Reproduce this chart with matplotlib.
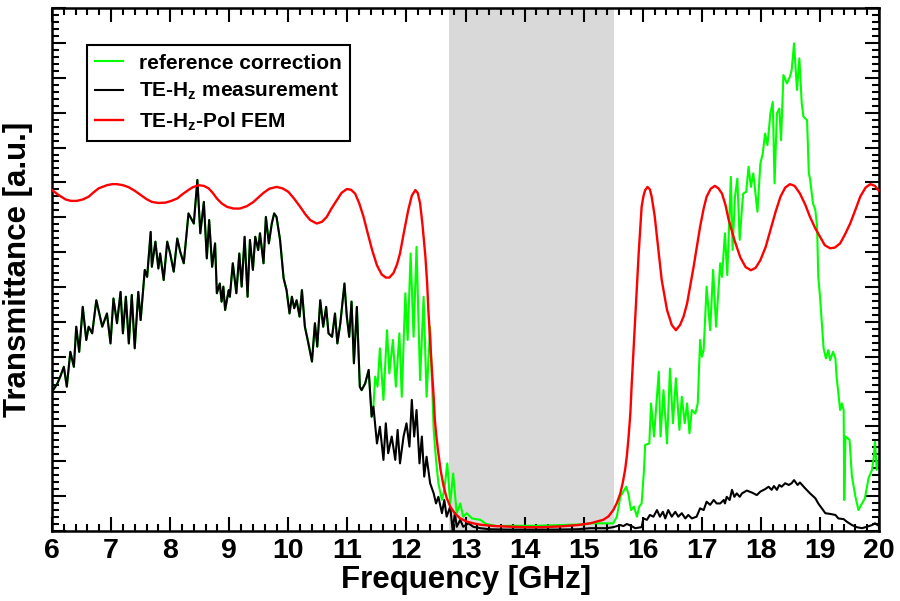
import numpy as np
import matplotlib
matplotlib.use('Agg')
import matplotlib.pyplot as plt
from matplotlib.ticker import MultipleLocator

plt.rcParams['font.family'] = ['Liberation Sans', 'DejaVu Sans']
plt.rcParams['font.weight'] = 'bold'
plt.rcParams['mathtext.fontset'] = 'custom'
plt.rcParams['mathtext.bf'] = 'Liberation Sans:bold'
plt.rcParams['mathtext.rm'] = 'Liberation Sans:bold'
plt.rcParams['mathtext.default'] = 'bf'

black_x = [6.00, 6.09, 6.14, 6.20, 6.25, 6.31, 6.37, 6.41, 6.46, 6.52, 6.58, 6.62, 6.68, 6.75, 6.85,
           6.93, 6.99, 7.04, 7.10, 7.16, 7.20, 7.25, 7.30, 7.35, 7.40, 7.46, 7.50, 7.57, 7.61, 7.67,
           7.69, 7.75, 7.80, 7.83, 7.89, 7.95, 8.00, 8.06, 8.12, 8.17, 8.23, 8.31, 8.40, 8.46, 8.51,
           8.57, 8.62, 8.66, 8.71,
           8.76, 8.79, 8.84, 8.87, 8.90, 8.93, 8.99, 9.01, 9.06, 9.12, 9.17, 9.21, 9.26, 9.31, 9.35,
           9.40, 9.44, 9.49, 9.52, 9.58, 9.62, 9.67, 9.72, 9.76, 9.80, 9.86, 9.92, 9.97, 10.02, 10.06,
           10.10, 10.14, 10.19, 10.23, 10.28, 10.34, 10.40, 10.45, 10.49, 10.54, 10.59, 10.64, 10.68,
           10.74, 10.79, 10.83, 10.88, 10.95, 10.99, 11.03, 11.07, 11.11, 11.16, 11.21,
           11.24, 11.30, 11.36, 11.41, 11.44, 11.50, 11.55, 11.61, 11.65, 11.69, 11.75, 11.81, 11.85,
           11.89, 11.95, 12.00, 12.05, 12.09, 12.13, 12.17, 12.22, 12.26, 12.30, 12.34, 12.40, 12.46,
           12.50, 12.54, 12.60, 12.64, 12.68, 12.74, 12.78, 12.82, 12.85, 12.91, 12.96, 13.05, 13.13,
           13.25, 13.40, 13.70, 14.00, 14.50, 14.90,
           15.11, 15.39, 15.50, 15.62, 15.67, 15.73, 15.81, 15.87, 15.98, 16.01, 16.07, 16.12, 16.18,
           16.24, 16.29, 16.34, 16.38, 16.43, 16.49, 16.55, 16.60, 16.66, 16.72, 16.77, 16.83, 16.91,
           16.97, 17.03, 17.08, 17.14, 17.20, 17.25,
           17.31, 17.37, 17.39, 17.42, 17.47, 17.51, 17.55, 17.59, 17.64, 17.68, 17.76, 17.85, 17.93,
           17.99, 18.07, 18.13, 18.18, 18.22, 18.27, 18.31, 18.35, 18.41, 18.47, 18.52, 18.56, 18.62,
           18.66, 18.75, 18.83, 18.92, 18.97, 19.03, 19.09, 19.17, 19.26, 19.31, 19.40, 19.45, 19.54,
           19.62, 19.71, 19.79, 19.88, 19.93, 20.00]
black_y = [3.99, 4.23, 4.43, 4.71, 4.14, 5.14, 4.71, 5.86, 5.14, 6.43, 5.48, 5.86, 5.67, 6.62, 5.86,
           6.24, 5.38, 6.67, 5.96, 6.86, 5.67, 6.72, 5.38, 6.77, 5.24, 6.86, 6.05, 7.49, 7.29, 8.58,
           7.58, 8.30, 7.53, 7.96, 7.20, 8.30, 7.96, 7.44, 8.39, 8.01, 7.68, 9.11, 8.82, 10.07, 8.54,
           9.44, 7.82, 8.92, 7.58,
           8.25, 6.82, 7.10, 6.58, 7.01, 6.34, 6.91, 6.72, 7.68, 6.82, 7.96, 7.01, 8.44, 6.72, 8.35,
           7.49, 8.44, 8.06, 8.54, 7.68, 9.01, 8.25, 8.82, 9.11, 9.01, 8.35, 7.25, 6.91, 6.24, 6.72,
           6.39, 6.62, 6.15, 6.91, 5.86, 5.38, 4.86, 5.96, 5.29, 6.62, 5.86, 6.43, 5.67,
           5.57, 6.24, 5.38, 5.96, 7.10, 6.15, 5.57, 6.58, 4.81, 6.43, 4.14,
           4.04, 4.23, 4.62, 3.28, 3.57, 2.51, 2.99, 2.04, 3.09, 2.23, 2.71, 2.04, 2.90,
           1.94, 2.71, 3.09, 2.42, 3.76, 2.71, 3.47, 1.94, 2.71, 1.56, 2.13, 1.37, 1.08,
           0.79, 0.98, 0.51, 0.89, 0.41, 0.70, 0.03, 0.51, 0.12, 0.32, 0.12, 0.22, 0.12,
           0.08, 0.05, 0.04, 0.04, 0.04, 0.05,
           0.08, 0.08, 0.11, 0.17, 0.14, 0.20, 0.14, 0.08, 0.11, 0.36, 0.32, 0.46, 0.41,
           0.60, 0.41, 0.55, 0.36, 0.60, 0.41, 0.55, 0.41, 0.51, 0.36, 0.46, 0.36, 0.41,
           0.65, 0.60, 0.84, 0.75, 0.89, 0.79,
           0.79, 0.89, 0.79, 0.98, 0.89, 1.18, 0.98, 1.08, 0.98, 1.08, 1.16, 1.10, 1.03,
           1.13, 1.20, 1.27, 1.18, 1.29, 1.18, 1.32, 1.27, 1.37, 1.32, 1.37, 1.46, 1.32,
           1.39, 1.22, 1.08, 0.94, 0.79, 0.65, 0.51, 0.49, 0.46, 0.36, 0.34, 0.27, 0.17,
           0.11, 0.08, 0.12, 0.17, 0.22, 0.14]

# reference corrected curve, identical to the measurement below 11.46 GHz
green_x = [11.47, 11.51, 11.55, 11.61, 11.67, 11.71, 11.77, 11.82, 11.88, 11.92, 11.98, 12.02, 12.07,
           12.12, 12.17, 12.23, 12.29, 12.34, 12.40, 12.46, 12.50, 12.54, 12.60, 12.64, 12.69, 12.74,
           12.79, 12.85, 12.91, 12.96, 13.02, 13.11, 13.25, 13.35, 13.53, 13.80, 14.20, 14.60, 15.00,
           15.11, 15.50, 15.56, 15.62, 15.67, 15.72, 15.76, 15.80, 15.85, 15.90, 15.94, 15.98, 16.02,
           16.04, 16.11, 16.14, 16.19, 16.27, 16.30, 16.35, 16.41, 16.46, 16.51, 16.56, 16.62, 16.66,
           16.71, 16.75, 16.79, 16.83, 16.89, 16.93, 16.97, 17.00, 17.03, 17.08, 17.14, 17.19, 17.24,
           17.31, 17.34, 17.39, 17.43, 17.49, 17.52, 17.56, 17.60, 17.64, 17.68, 17.70, 17.75, 17.79,
           17.83, 17.87, 17.90, 17.94, 17.99, 18.03, 18.07, 18.11, 18.16, 18.20, 18.23, 18.27, 18.31,
           18.34, 18.38, 18.44, 18.49, 18.52, 18.56, 18.61, 18.65, 18.69, 18.72, 18.78, 18.81, 18.83,
           18.88, 18.92, 18.95, 18.97, 19.00, 19.03, 19.06, 19.10, 19.14, 19.17, 19.22, 19.26, 19.28,
           19.34, 19.37, 19.40, 19.41, 19.43, 19.47, 19.50, 19.54, 19.60, 19.65, 19.71, 19.76, 19.82,
           19.88, 19.91, 19.93, 19.96, 20.00]
green_y = [4.43, 4.14, 5.24, 3.76, 5.76, 4.52, 5.48, 4.14, 5.67, 3.85, 6.82, 5.48, 7.96,
           5.57, 8.15, 4.33, 6.72, 3.85, 5.86, 2.90, 2.04, 1.37, 0.89, 1.18, 1.94, 0.79,
           1.65, 0.51, 0.79, 0.41, 0.51, 0.36, 0.32, 0.20, 0.14, 0.15, 0.15, 0.17, 0.19,
           0.22, 0.22, 0.41, 0.98, 1.13, 1.27, 1.03, 0.60, 0.70, 0.41, 0.70, 0.79, 1.75,
           2.47, 2.51, 3.66, 2.71, 4.57, 2.71, 4.04, 2.51, 4.66, 3.09, 4.38, 2.90, 3.85,
           3.09, 3.66, 2.80, 3.47, 3.37, 3.66, 5.48, 5.00, 5.19, 7.01, 5.76, 7.49, 5.86,
           7.68, 7.29, 8.54, 7.34, 10.16, 8.06, 9.59, 10.11, 8.35, 9.30, 9.68, 9.73, 10.45,
           9.87, 10.26, 9.78, 9.16, 10.54, 10.83, 11.40, 11.07, 11.98, 12.31, 9.97, 11.98, 12.12,
           11.21, 13.08, 12.84, 13.03, 13.22, 13.99, 12.65, 13.56, 12.27, 11.88, 11.79, 10.26, 10.11,
           9.40, 9.21, 8.73, 7.29, 6.72, 5.96, 5.24, 4.95, 5.19, 4.90, 5.14, 4.95, 4.43,
           3.47, 3.66, 3.47, 0.89, 2.71, 2.66, 2.61, 1.56, 0.98, 0.60, 0.79, 0.94, 1.51,
           1.75, 2.13, 2.56, 1.75, 2.08]

# FEM simulation TE-Hz-Pol
fem_x = [6.00, 6.11, 6.23, 6.32, 6.42, 6.52, 6.62, 6.70, 6.79, 6.93, 7.02, 7.10, 7.20, 7.30,
         7.40, 7.50, 7.60, 7.69, 7.80, 7.92, 8.02, 8.12, 8.20, 8.29, 8.38, 8.48, 8.57, 8.65,
         8.72, 8.79, 8.87, 8.96, 9.07, 9.18, 9.30, 9.41, 9.50, 9.58, 9.68, 9.80, 9.90, 10.00,
         10.10, 10.20, 10.29, 10.37, 10.48, 10.57, 10.65, 10.73, 10.82, 10.90, 10.99, 11.06,
         11.13, 11.20, 11.27, 11.35, 11.42, 11.50, 11.58, 11.65, 11.71, 11.78, 11.84, 11.89,
         11.96, 12.03, 12.09, 12.15, 12.19, 12.23, 12.27, 12.32, 12.35, 12.37, 12.40, 12.43,
         12.46, 12.48, 12.51, 12.54, 12.58, 12.63, 12.68, 12.74, 12.82, 12.91, 13.02, 13.13,
         13.25, 13.50, 13.80, 14.00, 14.30, 14.60, 14.90, 15.11, 15.33, 15.42, 15.50, 15.56,
         15.62, 15.66, 15.70, 15.73, 15.76, 15.79, 15.81, 15.84, 15.87, 15.90, 15.93, 15.96,
         15.98, 16.01, 16.04, 16.08, 16.12, 16.15, 16.20, 16.24, 16.32, 16.41, 16.49, 16.56,
         16.63, 16.69, 16.75, 16.80, 16.86, 16.92, 16.97, 17.03, 17.08, 17.15, 17.22, 17.28,
         17.34, 17.40, 17.45, 17.55, 17.65, 17.74, 17.83, 17.91, 17.99, 18.08, 18.16, 18.25,
         18.33, 18.41, 18.49, 18.57, 18.66, 18.75, 18.83, 18.92, 19.00, 19.08, 19.17, 19.25,
         19.34, 19.42, 19.51, 19.60, 19.68, 19.77, 19.85, 19.93, 20.00]
fem_y = [9.78, 9.64, 9.51, 9.47, 9.47, 9.51, 9.59, 9.71, 9.83, 9.92, 9.95, 9.95, 9.92, 9.86,
         9.76, 9.64, 9.52, 9.44, 9.41, 9.42, 9.47, 9.54, 9.65, 9.76, 9.86, 9.92, 9.90, 9.83,
         9.70, 9.54, 9.40, 9.30, 9.25, 9.25, 9.32, 9.44, 9.58, 9.70, 9.82, 9.87, 9.83, 9.73,
         9.53, 9.30, 9.08, 8.92, 8.82, 8.87, 9.01, 9.25, 9.49, 9.70, 9.81, 9.79,
         9.68, 9.40, 9.03, 8.50, 8.05, 7.62, 7.36, 7.27, 7.27, 7.40, 7.65, 7.96,
         8.60, 9.21, 9.62, 9.78, 9.70, 9.40, 8.80, 7.87, 7.10, 6.34, 5.45, 4.62,
         3.85, 3.18, 2.65, 2.23, 1.72, 1.27, 0.95, 0.70, 0.50, 0.36, 0.27, 0.22,
         0.18, 0.14, 0.12, 0.11, 0.11, 0.13, 0.17, 0.22, 0.32, 0.42, 0.60, 0.80,
         1.08, 1.38, 1.75, 2.15, 2.71, 3.40, 4.14, 5.10, 6.05, 7.00, 7.96, 8.75,
         9.30, 9.60, 9.78, 9.87, 9.80, 9.59, 9.05, 8.44, 7.20, 6.34, 5.91, 5.76,
         5.91, 6.15, 6.53, 7.00, 7.58, 8.20, 8.73, 9.25, 9.59, 9.82, 9.90, 9.83,
         9.68, 9.35, 8.95, 8.35, 7.85, 7.57, 7.48, 7.55, 7.77, 8.15, 8.63, 9.17,
         9.59, 9.85, 9.95, 9.90, 9.68, 9.36, 9.01, 8.68, 8.44, 8.20, 8.11, 8.13,
         8.25, 8.50, 8.82, 9.22, 9.59, 9.85, 9.95, 9.90, 9.75]

band_gap = (12.72, 15.52)

# green equals the measurement up to where the correction starts
bx = np.array(black_x)
by = np.array(black_y)
pre = bx < green_x[0]
ref_x = np.concatenate([bx[pre], green_x])
ref_y = np.concatenate([by[pre], green_y])

fig = plt.figure(figsize=(9, 6.01), dpi=100)
ax = fig.add_axes([0.0578, 0.1165, 0.919, 0.870])

ax.axvspan(band_gap[0], band_gap[1], color='#d9d9d9', lw=0, zorder=0)
ax.plot(ref_x, ref_y, color='#00ff00', lw=1.5, label='reference correction', zorder=2)
ax.plot(bx, by, color='black', lw=1.5, label='TE-H$_z$ measurement', zorder=3)
ax.plot(fem_x, fem_y, color='#ff0000', lw=1.7, label='TE-H$_z$-Pol FEM', zorder=4)

ax.set_xlim(6, 20)
ax.set_ylim(0, 15)
ax.xaxis.set_major_locator(MultipleLocator(1))
ax.xaxis.set_minor_locator(MultipleLocator(0.2))
ax.yaxis.set_major_locator(MultipleLocator(1))
ax.yaxis.set_minor_locator(MultipleLocator(0.2))
ax.tick_params(which='both', direction='in', top=True, right=True, width=1.5)
ax.tick_params(which='major', length=10)
ax.tick_params(which='minor', length=5)
ax.tick_params(axis='x', labelsize=20.5, pad=5)
ax.tick_params(axis='y', labelleft=False)
for lab in ax.get_xticklabels():
    lab.set_fontweight('bold')
for sp in ax.spines.values():
    sp.set_linewidth(1.8)

ax.set_xlabel('Frequency [GHz]', fontsize=22.5, fontweight='bold', labelpad=1)
ax.set_ylabel('Transmittance [a.u.]', fontsize=22.5, fontweight='bold', labelpad=10)

leg = ax.legend(loc='upper left', bbox_to_anchor=(0.042, 0.929), borderaxespad=0,
                prop={'weight': 'bold', 'size': 15}, fancybox=False,
                framealpha=1, edgecolor='black', handlelength=1.35, handletextpad=0.75,
                labelspacing=0.4, borderpad=0.4)
leg.get_frame().set_linewidth(1.5)

fig.savefig('out.png', dpi=100)
